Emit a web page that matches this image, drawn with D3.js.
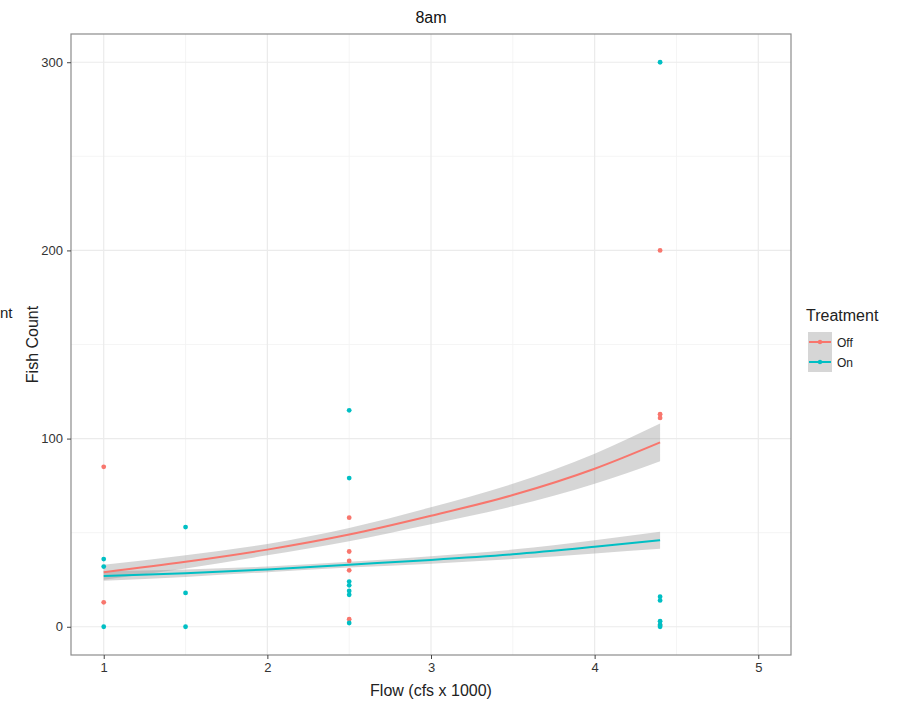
<!DOCTYPE html>
<html>
<head>
<meta charset="utf-8">
<script src="https://cdn.jsdelivr.net/npm/d3@7"></script>
<style>
  body { margin: 0; background: #fff; }
  text { font-family: "Liberation Sans", Arial, sans-serif; }
</style>
</head>
<body>
<svg id="svg1" width="904" height="703"></svg>
<script>
// raw points
var offX = [1, 1, 2.5, 2.5, 2.5, 2.5, 2.5, 4.4, 4.4, 4.4, 4.4];
var offY = [85, 13, 58, 40, 35, 30, 4, 200, 113, 111, 1];
var onX = [1, 1, 1, 1.5, 1.5, 1.5, 2.5, 2.5, 2.5, 2.5, 2.5, 2.5, 2.5, 4.4, 4.4, 4.4, 4.4, 4.4, 4.4];
var onY = [36, 32, 0, 53, 18, 0, 115, 79, 24, 22, 19, 17, 2, 300, 16, 14, 3, 1, 0];

// fitted curves + ribbons
var fitX = [1, 1.5, 2, 2.5, 3, 3.5, 4, 4.4];
var offFit = [29, 34.5, 41, 49, 59, 70, 84, 98];
var offLo = [25, 31, 38, 45.5, 54.5, 64, 76, 88];
var offHi = [33, 38, 44, 52.5, 63.5, 76, 92, 108];
var onFit = [27, 28.5, 30.5, 33, 35.5, 38.5, 42.5, 46];
var onLo = [24.5, 26.5, 29, 31.5, 33.5, 36, 39, 41.5];
var onHi = [29.5, 30.5, 32, 34.5, 37.5, 41, 46, 50.5];

var xTicks = [1, 2, 3, 4, 5];
var yTicks = [0, 100, 200, 300];
var xMinor = [1.5, 2.5, 3.5, 4.5];
var yMinor = [50, 150, 250];

var treatments = ["Off", "On"];
var colours = ["#F8766D", "#00BFC4"];

var svg = d3.select("#svg1"),
    margin = {top: 34, left: 71, right: 113, bottom: 48},
    width = 904 - margin.left - margin.right,
    height = 703 - margin.top - margin.bottom;

var g = svg.append("g").attr("transform", "translate(" + margin.left + "," + margin.top + ")");

var x = d3.scaleLinear().domain([0.8, 5.2]).range([0, width]);
var y = d3.scaleLinear().domain([-15, 315]).range([height, 0]);
var colour = d3.scaleOrdinal().domain(treatments).range(colours);

// grid
g.selectAll(".xminor").data(xMinor).enter().append("line")
    .attr("x1", x).attr("x2", x).attr("y1", 0).attr("y2", height)
    .attr("stroke", "#f2f2f2").attr("stroke-width", 0.8);
g.selectAll(".yminor").data(yMinor).enter().append("line")
    .attr("x1", 0).attr("x2", width).attr("y1", y).attr("y2", y)
    .attr("stroke", "#f2f2f2").attr("stroke-width", 0.8);
g.selectAll(".xmajor").data(xTicks).enter().append("line")
    .attr("x1", x).attr("x2", x).attr("y1", 0).attr("y2", height)
    .attr("stroke", "#ebebeb").attr("stroke-width", 1.2);
g.selectAll(".ymajor").data(yTicks).enter().append("line")
    .attr("x1", 0).attr("x2", width).attr("y1", y).attr("y2", y)
    .attr("stroke", "#ebebeb").attr("stroke-width", 1.2);

// ribbons + lines
var series = [
  {name: "Off", fit: offFit, lo: offLo, hi: offHi},
  {name: "On", fit: onFit, lo: onLo, hi: onHi}
];

var area = d3.area()
    .x(function(d) { return x(d.x); })
    .y0(function(d) { return y(d.lo); })
    .y1(function(d) { return y(d.hi); })
    .curve(d3.curveMonotoneX);
var line = d3.line()
    .x(function(d) { return x(d.x); })
    .y(function(d) { return y(d.fit); })
    .curve(d3.curveMonotoneX);

series.forEach(function(s) {
  var rows = fitX.map(function(v, i) { return {x: v, fit: s.fit[i], lo: s.lo[i], hi: s.hi[i]}; });
  s.rows = rows;
  g.append("path").datum(rows).attr("d", area)
      .attr("fill", "#999999").attr("fill-opacity", 0.4);
});
series.forEach(function(s) {
  g.append("path").datum(s.rows).attr("d", line)
      .attr("fill", "none").attr("stroke", colour(s.name)).attr("stroke-width", 2);
});

// points
var pts = offX.map(function(v, i) { return {x: v, y: offY[i], t: "Off"}; })
    .concat(onX.map(function(v, i) { return {x: v, y: onY[i], t: "On"}; }));
g.selectAll(".pt").data(pts).enter().append("circle")
    .attr("cx", function(d) { return x(d.x); })
    .attr("cy", function(d) { return y(d.y); })
    .attr("r", 2.4)
    .attr("fill", function(d) { return colour(d.t); });

// panel border
g.append("rect").attr("width", width).attr("height", height)
    .attr("fill", "none").attr("stroke", "#8c8c8c").attr("stroke-width", 1.2);

// axes
var xAxis = g.append("g").attr("transform", "translate(0," + height + ")")
    .call(d3.axisBottom(x).tickValues(xTicks).tickSize(4).tickPadding(4).tickFormat(d3.format("d")));
var yAxis = g.append("g")
    .call(d3.axisLeft(y).tickValues(yTicks).tickSize(4).tickPadding(4).tickFormat(d3.format("d")));
[xAxis, yAxis].forEach(function(a) {
  a.select(".domain").remove();
  a.selectAll("line").attr("stroke", "#444");
  a.selectAll("text").attr("fill", "#333").style("font-size", "13px")
      .style("font-family", "'Liberation Sans', Arial, sans-serif");
});

// titles
svg.append("text").attr("x", margin.left + width / 2).attr("y", 23)
    .attr("text-anchor", "middle").style("font-size", "16px").attr("fill", "#111").text("8am");
svg.append("text").attr("x", margin.left + width / 2).attr("y", 696)
    .attr("text-anchor", "middle").style("font-size", "16px").attr("fill", "#222").text("Flow (cfs x 1000)");
svg.append("text").attr("transform", "translate(38," + (margin.top + height / 2) + ") rotate(-90)")
    .attr("text-anchor", "middle").style("font-size", "16px").attr("fill", "#222").text("Fish Count");
svg.append("text").attr("x", 0).attr("y", 318)
    .attr("text-anchor", "start").style("font-size", "15px").attr("fill", "#222").text("nt");

// legend
var lg = svg.append("g").attr("transform", "translate(806,0)");
lg.append("text").attr("x", 0).attr("y", 321).style("font-size", "16px").attr("fill", "#222").text("Treatment");
var key = lg.selectAll(".key").data(treatments).enter().append("g")
    .attr("transform", function(d, i) { return "translate(2," + (332 + i * 20) + ")"; });
key.append("rect").attr("width", 24).attr("height", 20)
    .attr("fill", "#999999").attr("fill-opacity", 0.4);
key.append("line").attr("x1", 1).attr("x2", 23).attr("y1", 10).attr("y2", 10)
    .attr("stroke", function(d) { return colour(d); }).attr("stroke-width", 2);
key.append("circle").attr("cx", 12).attr("cy", 10).attr("r", 2.2)
    .attr("fill", function(d) { return colour(d); });
key.append("text").attr("x", 29).attr("y", 14.5).style("font-size", "12px").attr("fill", "#222")
    .text(function(d) { return d; });
</script>
</body>
</html>
